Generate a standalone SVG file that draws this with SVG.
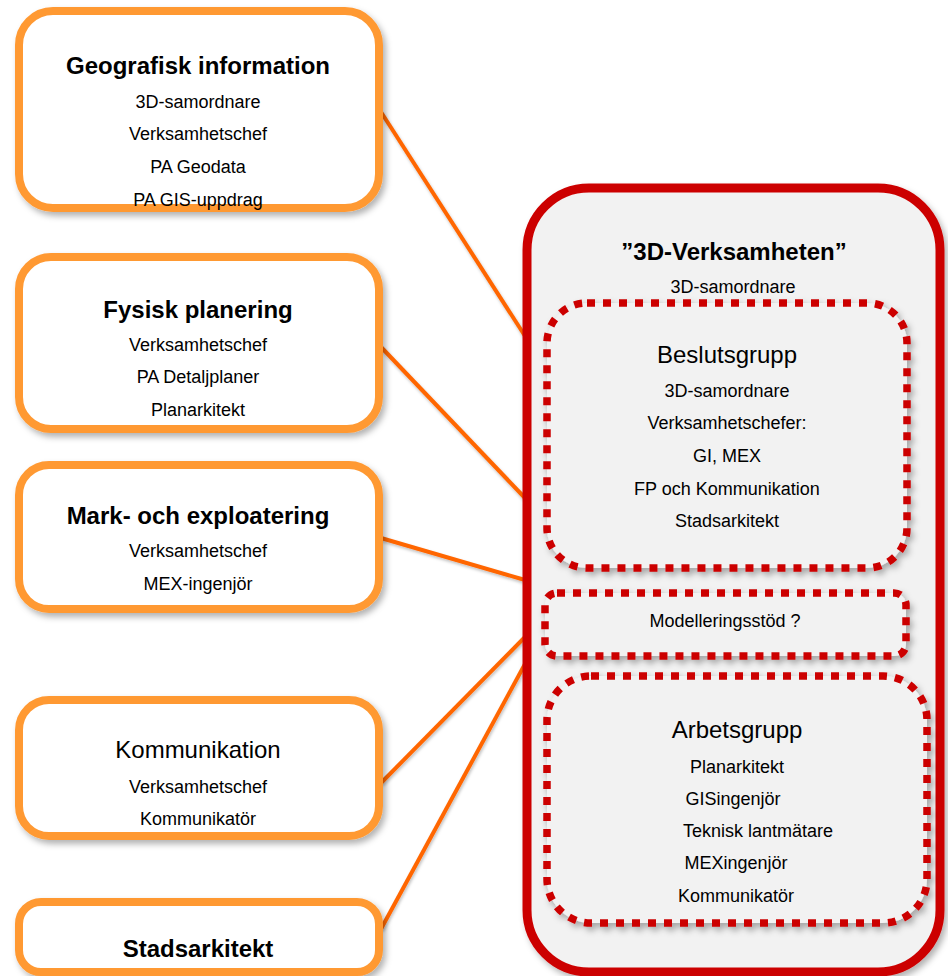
<svg xmlns="http://www.w3.org/2000/svg" width="948" height="976" viewBox="0 0 948 976">
<defs>
<filter id="sh" x="-10%" y="-10%" width="130%" height="130%">
<feDropShadow dx="3" dy="4" stdDeviation="3" flood-color="#000" flood-opacity="0.3"/>
</filter>
<filter id="lsh" x="-10%" y="-10%" width="130%" height="130%">
<feDropShadow dx="1" dy="2" stdDeviation="1.5" flood-color="#000" flood-opacity="0.25"/>
</filter>
</defs>
<style>
.ob{fill:#fff;stroke:#FF9933;stroke-width:8;filter:url(#sh)}
.big{fill:#F2F2F2;stroke:#CC0000;stroke-width:9;filter:url(#sh)}
.dot{fill:#F2F2F2;stroke:#CC0000;stroke-width:7.5;stroke-dasharray:8 8;filter:url(#sh)}
.con{stroke:#FF6600;stroke-width:4;fill:none;filter:url(#lsh)}
text{font-family:"Liberation Sans",Arial,sans-serif;fill:#000;text-anchor:middle}
.t{font-size:24px;font-weight:bold}
.h{font-size:24px}
.s{font-size:18px}
</style>
<rect width="948" height="976" fill="#fff"/>
<g id="connectors">
<line class="con" x1="381" y1="112" x2="525" y2="336"/>
<line class="con" x1="381" y1="347" x2="525" y2="498"/>
<line class="con" x1="381" y1="538" x2="525" y2="580"/>
<line class="con" x1="381" y1="783" x2="525" y2="637"/>
<line class="con" x1="381" y1="929" x2="525" y2="664"/>
</g>
<g id="geografisk">
<rect class="ob" x="19" y="11" width="360" height="197" rx="34"/>
<text class="t" x="198" y="74">Geografisk information</text>
<text class="s" x="198" y="108">3D-samordnare</text>
<text class="s" x="198" y="140">Verksamhetschef</text>
<text class="s" x="198" y="173">PA Geodata</text>
<text class="s" x="198" y="206">PA GIS-uppdrag</text>
</g>
<g id="fysisk">
<rect class="ob" x="19" y="257" width="360" height="172" rx="32"/>
<text class="t" x="198" y="318">Fysisk planering</text>
<text class="s" x="198" y="351">Verksamhetschef</text>
<text class="s" x="198" y="383">PA Detaljplaner</text>
<text class="s" x="198" y="416">Planarkitekt</text>
</g>
<g id="mark">
<rect class="ob" x="19" y="465" width="360" height="144" rx="30"/>
<text class="t" x="198" y="524">Mark- och exploatering</text>
<text class="s" x="198" y="557">Verksamhetschef</text>
<text class="s" x="198" y="590">MEX-ingenjör</text>
</g>
<g id="kommunikation">
<rect class="ob" x="19" y="700" width="360" height="136" rx="30"/>
<text class="h" x="198" y="758">Kommunikation</text>
<text class="s" x="198" y="793">Verksamhetschef</text>
<text class="s" x="198" y="825">Kommunikatör</text>
</g>
<g id="stadsarkitekt">
<rect class="ob" x="19" y="902" width="360" height="70" rx="22"/>
<text class="t" x="198" y="957">Stadsarkitekt</text>
</g>
<g id="verksamheten">
<rect class="big" x="527" y="188" width="413" height="784" rx="62"/>
<text class="t" x="734" y="260">”3D-Verksamheten”</text>
<text class="s" x="733" y="293">3D-samordnare</text>
</g>
<g id="beslutsgrupp">
<rect class="dot" x="547" y="303" width="360" height="265" rx="40"/>
<text class="h" x="727" y="363">Beslutsgrupp</text>
<text class="s" x="727" y="397">3D-samordnare</text>
<text class="s" x="727" y="429">Verksamhetschefer:</text>
<text class="s" x="727" y="462">GI, MEX</text>
<text class="s" x="727" y="495">FP och Kommunikation</text>
<text class="s" x="727" y="527">Stadsarkitekt</text>
</g>
<g id="modellering">
<rect class="dot" x="545" y="593" width="361" height="63" rx="12"/>
<text class="s" x="725" y="627">Modelleringsstöd ?</text>
</g>
<g id="arbetsgrupp">
<rect class="dot" x="547" y="676" width="380" height="247" rx="44"/>
<text class="h" x="737" y="738">Arbetsgrupp</text>
<text class="s" x="737" y="773">Planarkitekt</text>
<text class="s" x="733" y="805">GISingenjör</text>
<text class="s" x="758" y="837">Teknisk lantmätare</text>
<text class="s" x="736" y="869">MEXingenjör</text>
<text class="s" x="736" y="902">Kommunikatör</text>
</g>
</svg>
